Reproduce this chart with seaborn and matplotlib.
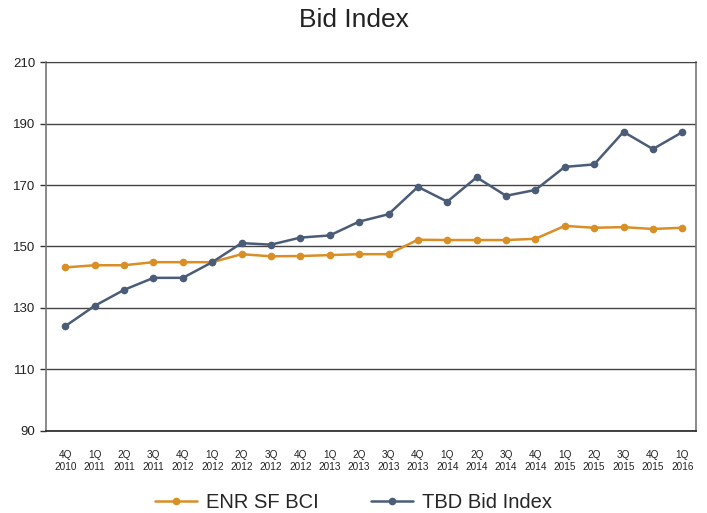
import matplotlib
matplotlib.use("Agg")
import matplotlib.pyplot as plt
import seaborn as sns
import pandas as pd

quarters = ["4Q\n2010", "1Q\n2011", "2Q\n2011", "3Q\n2011", "4Q\n2012", "1Q\n2012",
            "2Q\n2012", "3Q\n2012", "4Q\n2012", "1Q\n2013", "2Q\n2013", "3Q\n2013",
            "4Q\n2013", "1Q\n2014", "2Q\n2014", "3Q\n2014", "4Q\n2014", "1Q\n2015",
            "2Q\n2015", "3Q\n2015", "4Q\n2015", "1Q\n2016"]
enr_sf_bci = [143.2, 143.9, 143.9, 144.9, 144.9, 144.9, 147.5, 146.8, 146.9, 147.2,
              147.5, 147.5, 152.2, 152.1, 152.1, 152.1, 152.5, 156.7, 156.1, 156.3,
              155.7, 156.1]
tbd_bid_index = [124.1, 130.7, 135.9, 139.8, 139.8, 144.9, 151.1, 150.6, 152.9, 153.6,
                 158.1, 160.5, 169.4, 164.6, 172.5, 166.5, 168.4, 175.9, 176.7, 187.3,
                 181.7, 187.2]
series_names = ["ENR SF BCI", "TBD Bid Index"]
colors = ["#D98E26", "#4A5C78"]

sns.set_style("white")
plt.rcParams["font.family"] = ["Liberation Sans", "DejaVu Sans"]

df = pd.DataFrame({
    "pos": list(range(len(quarters))) * 2,
    "value": enr_sf_bci + tbd_bid_index,
    "series": [series_names[0]] * len(quarters) + [series_names[1]] * len(quarters),
})

fig = plt.figure(figsize=(7.07, 5.13), dpi=100)
ax = fig.add_axes([0.065, 0.160, 0.920, 0.719])

sns.lineplot(data=df, x="pos", y="value", hue="series", hue_order=series_names,
             palette=colors, marker="o", markersize=5.5, markeredgewidth=0,
             linewidth=1.8, ax=ax)

ax.set_xlim(-0.66, len(quarters) - 0.52)
ax.set_ylim(90, 210)
ax.set_yticks(range(90, 211, 20))
ax.set_xticks(range(len(quarters)))
ax.set_xticklabels(quarters, fontsize=7.2, color="#222222", linespacing=1.15)
ax.tick_params(axis="y", labelsize=9.5, colors="#222222", length=4.5, width=1,
               direction="out", left=True, color="#333333", pad=3)
ax.tick_params(axis="x", length=0, pad=14, bottom=False)

ax.grid(axis="y", color="#444444", linewidth=1)
ax.set_axisbelow(True)
ax.set_xlabel("")
ax.set_ylabel("")
for side in ["left", "right"]:
    ax.spines[side].set_color("#777777")
    ax.spines[side].set_linewidth(1.2)
ax.spines["bottom"].set_color("#222222")
ax.spines["bottom"].set_linewidth(1.2)
ax.spines["top"].set_color("#444444")

fig.suptitle("Bid Index", fontsize=19, y=0.985, color="#222222")

handles, labels = ax.get_legend_handles_labels()
ax.legend_.remove()
fig.legend(handles, labels, loc="center", bbox_to_anchor=(0.5, 0.02),
           ncol=2, frameon=False, fontsize=14.5, columnspacing=2.6,
           handlelength=2.1, handletextpad=0.45)

fig.savefig("out.png", dpi=100)
